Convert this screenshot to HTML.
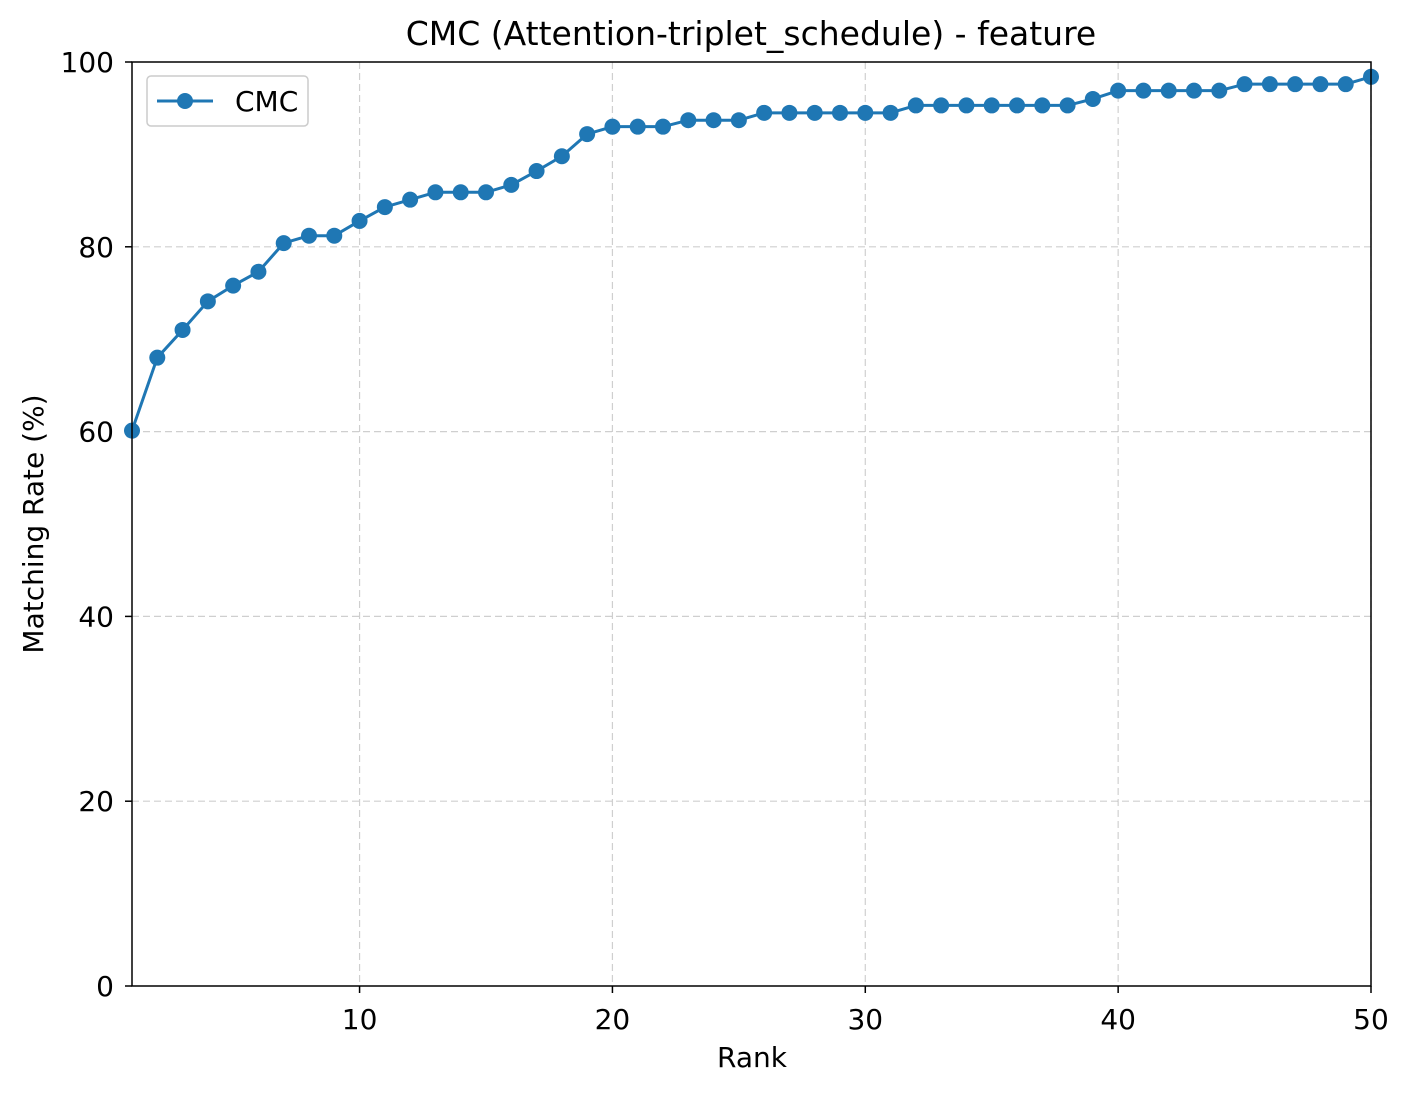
<!DOCTYPE html>
<html><head><meta charset="utf-8"><style>
html,body{margin:0;padding:0;background:#fff;}
svg{display:block;font-family:"DejaVu Sans","Liberation Sans",sans-serif;}
</style></head><body>
<svg id="chart" width="1409" height="1093" viewBox="0 0 1409 1093">
<text x="751" y="45" font-size="33" text-anchor="middle" fill="#000">CMC (Attention-triplet_schedule) - feature</text>
<g id="grid"></g>
<g id="ticks"></g>
<g id="series"></g>
<rect x="132" y="62" width="1239" height="924" fill="none" stroke="#000" stroke-width="1.5"/>
<text x="752" y="1067" font-size="28" text-anchor="middle">Rank</text>
<text x="43" y="524" font-size="28" text-anchor="middle" transform="rotate(-90 43 524)">Matching Rate (%)</text>
<g>
<rect x="147" y="76" width="161" height="50" rx="4" fill="#fff" stroke="#ccc" stroke-width="1.5"/>
<line x1="157" y1="101" x2="213" y2="101" stroke="#1f77b4" stroke-width="3"/>
<circle cx="185" cy="101" r="8" fill="#1f77b4"/>
<text x="235" y="111" font-size="28">CMC</text>
</g>
</svg>
<script>
const ranks = [];
for (let i = 1; i <= 50; i++) ranks.push(i);
const cmcValues = [60.1,68.0,71.0,74.1,75.8,77.3,80.4,81.2,81.2,82.8,84.3,85.1,85.9,85.9,85.9,86.7,88.2,89.8,92.2,93.0,93.0,93.0,93.7,93.7,93.7,94.5,94.5,94.5,94.5,94.5,94.5,95.3,95.3,95.3,95.3,95.3,95.3,95.3,96.0,96.9,96.9,96.9,96.9,96.9,97.6,97.6,97.6,97.6,97.6,98.4];
const xTicks = [10,20,30,40,50];
const yTicks = [0,20,40,60,80,100];
const NS = "http://www.w3.org/2000/svg";
const X0 = 132, X1 = 1371, Y0 = 986, Y1 = 62;
const xs = r => X0 + (r - 1) / 49 * (X1 - X0);
const ys = v => Y0 - v / 100 * (Y0 - Y1);
function mk(tag, attrs, parent) {
  const e = document.createElementNS(NS, tag);
  for (const k in attrs) e.setAttribute(k, attrs[k]);
  parent.appendChild(e);
  return e;
}
const grid = document.getElementById('grid'), ticks = document.getElementById('ticks'), series = document.getElementById('series');
xTicks.forEach(t => {
  const x = xs(t);
  const g = mk('line', {x1:x, x2:x, y1:Y1, y2:Y0, stroke:'#b0b0b0', 'stroke-width':1.2, 'stroke-dasharray':'7,4', opacity:0.6}, grid);
  
  
  const tk = mk('line', {x1:x, x2:x, y1:Y0, y2:Y0 + 7, stroke:'#000', 'stroke-width':1.5}, ticks);
  
  
  const tl = mk('text', {x:x, y:Y0 + 43, 'font-size':28, 'text-anchor':'middle'}, ticks);
  tl.textContent = t;
  
  
});
yTicks.forEach(t => {
  const y = ys(t);
  if (t > 0 && t < 100) {
    const g = mk('line', {x1:X0, x2:X1, y1:y, y2:y, stroke:'#b0b0b0', 'stroke-width':1.2, 'stroke-dasharray':'7,4', opacity:0.6}, grid);
    
    
  }
  const tk = mk('line', {x1:X0 - 7, x2:X0, y1:y, y2:y, stroke:'#000', 'stroke-width':1.5}, ticks);
  
  
  const tl = mk('text', {x:X0 - 18, y:y + 10, 'font-size':28, 'text-anchor':'end'}, ticks);
  tl.textContent = t;
  
  
});
const pts = ranks.map((r, i) => xs(r) + ',' + ys(cmcValues[i])).join(' ');
const line = mk('polyline', {points:pts, fill:'none', stroke:'#1f77b4', 'stroke-width':3, 'stroke-linejoin':'round'}, series);


ranks.forEach((r, i) => {
  const c = mk('circle', {cx:xs(r), cy:ys(cmcValues[i]), r:8, fill:'#1f77b4'}, series);
  
  
});
</script>
</body></html>
